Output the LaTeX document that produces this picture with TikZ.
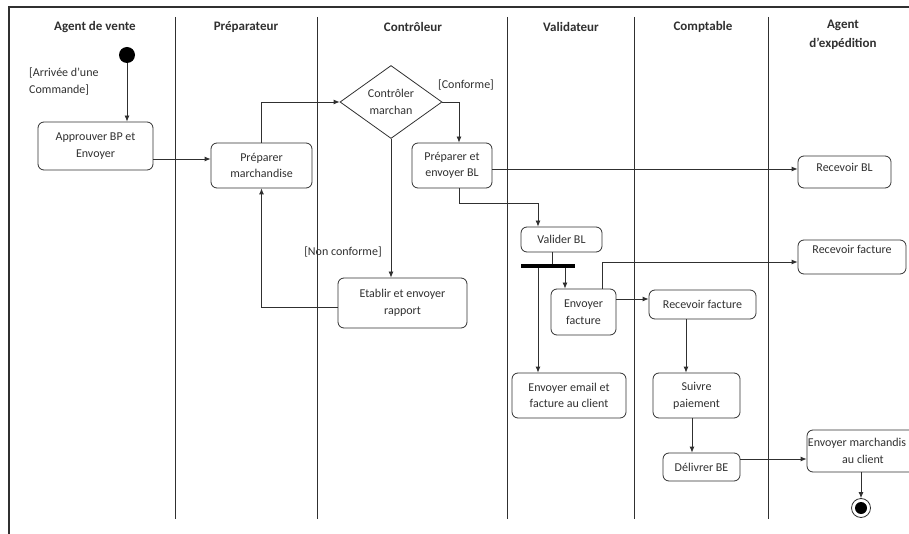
\documentclass[tikz,border=0pt]{standalone}
\usepackage{fontspec}
\setmainfont{Carlito}
\usetikzlibrary{shapes.geometric,arrows.meta}
\definecolor{ink}{HTML}{303030}
\begin{document}
\begin{tikzpicture}[x=1pt,y=-1pt,
  every node/.style={text=ink},
  act/.style={draw=ink, rounded corners=6pt, align=center, inner sep=2pt, line width=0.8pt, font=\fontsize{12}{16.7}\selectfont},
  dec/.style={diamond, draw=ink, align=center, inner sep=0pt, aspect=1.4, line width=0.8pt, font=\fontsize{12}{16.7}\selectfont},
  hdr/.style={font=\fontsize{13}{19}\selectfont\bfseries, align=center},
  lbl/.style={font=\fontsize{12}{16.7}\selectfont, align=left, inner sep=0pt},
  flow/.style={draw=ink, line width=0.8pt, -{Latex[length=6pt,width=5pt]}},
  plainline/.style={draw=ink, line width=0.8pt},
  lane/.style={draw=ink, line width=0.9pt}]
\useasboundingbox (0,0) rectangle (909,534);
% frame and lanes
\draw[ink, line width=1.8pt] (9,534) -- (9,7) -- (909,7);
\foreach \x in {175,317,507,634,768} \draw[lane] (\x,17) -- (\x,519);
% headers
\node[hdr] (h1) at (95,27) {Agent de vente};
\node[hdr] (h2) at (246,27) {Préparateur};
\node[hdr] (h3) at (413,27) {Contrôleur};
\node[hdr] (h4) at (571,27) {Validateur};
\node[hdr] (h5) at (703,27) {Comptable};
\node[hdr] (h6) at (843,35) {Agent\\d’expédition};
% activity nodes
\node[circle, fill=black, minimum size=16pt, inner sep=0pt] (start) at (127,55) {};
\node[act, minimum width=115pt, minimum height=48pt] (appr) at (95.5,146) {Approuver BP et\\Envoyer};
\node[act, minimum width=101pt, minimum height=45pt] (prep) at (261.5,165.5) {Préparer\\marchandise};
\node[dec, minimum width=102pt, minimum height=73pt] (ctrl) at (391,102) {Contrôler\\marchan};
\node[act, minimum width=80pt, minimum height=45pt] (pebl) at (452,165.5) {Préparer et\\envoyer BL};
\node[act, minimum width=93pt, minimum height=32pt, text height=8pt, text depth=8pt] (rbl) at (844.5,172) {Recevoir BL};
\node[act, minimum width=129pt, minimum height=50pt] (etab) at (402.5,303) {Etablir et envoyer\\rapport};
\node[act, minimum width=81pt, minimum height=25pt] (vbl) at (561.5,239.5) {Valider BL};
\node[fill=black, minimum width=54pt, minimum height=3.5pt, inner sep=0pt] (fork) at (548,266) {};
\node[act, minimum width=65pt, minimum height=46pt] (ef) at (583.5,312) {Envoyer\\facture};
\node[act, minimum width=114pt, minimum height=45pt] (em) at (569,395.5) {Envoyer email et\\facture au client};
\node[act, minimum width=108pt, minimum height=34pt, text height=8pt, text depth=14pt] (rfe) at (852,257) {Recevoir facture};
\node[act, minimum width=107pt, minimum height=29pt] (rfc) at (702.5,304.5) {Recevoir facture};
\node[act, minimum width=87pt, minimum height=45pt] (sp) at (696.5,395.5) {Suivre\\paiement};
\node[act, minimum width=77pt, minimum height=28pt] (dbe) at (701.5,467) {Délivrer BE};
\node[act, minimum width=110pt, minimum height=42pt] (emc) at (862,451) {};
\node[font=\fontsize{12}{16.7}\selectfont, align=center, inner sep=0pt] (emctext) at (857,451) {Envoyer marchandis\\\hspace*{12pt}au client};
\node[circle, draw=ink, line width=0.8pt, minimum size=19pt, inner sep=0pt] (end) at (861,508) {};
\node[circle, fill=black, minimum size=12pt, inner sep=0pt] (endin) at (end.center) {};
% guard labels
\node[lbl, anchor=north west] (arr) at (29,68) {[Arrivée d’une\\Commande]};
\node[lbl] (conf) at (466,85) {[Conforme]};
\node[lbl] (nconf) at (343,252) {[Non conforme]};
% helper coordinates
\coordinate (y159) at (0,159);
\coordinate (y169) at (0,169);
\coordinate (y203) at (0,203);
\coordinate (y262) at (0,262);
\coordinate (y299) at (0,299);
\coordinate (y307) at (0,307);
\coordinate (y459) at (0,459);
\coordinate (x459) at (459,0);
\coordinate (x538) at (538,0);
\coordinate (x552) at (552,0);
\coordinate (x565) at (565,0);
\coordinate (x602) at (602,0);
\coordinate (x686) at (686,0);
\coordinate (x692) at (692,0);
\coordinate (x861) at (861,0);
% connectors
\draw[flow] (start) -- (appr.north -| start);
\draw[flow] (appr.east |- y159) -- (prep.west |- y159);
\draw[flow] (prep.north) |- (ctrl.west);
\draw[flow] (ctrl.east) -| (pebl.north -| x459);
\draw[flow] (ctrl.south) -- (etab.north -| ctrl.south);
\draw[flow] (pebl.east |- y169) -- (rbl.west |- y169);
\draw[flow] (pebl.south -| x459) |- (y203 -| x538) -- (vbl.north -| x538);
\draw[flow] (etab.west |- y307) -| (prep.south);
\draw[plainline] (vbl.south -| x552) -- (fork.north -| x552);
\draw[flow] (fork.south -| x538) -- (em.north -| x538);
\draw[flow] (fork.south -| x565) -- (ef.north -| x565);
\draw[flow] (ef.north -| x602) |- (rfe.west |- y262);
\draw[flow] (ef.east |- y299) -- (rfc.west |- y299);
\draw[flow] (rfc.south -| x686) -- (sp.north -| x686);
\draw[flow] (sp.south -| x692) -- (dbe.north -| x692);
\draw[flow] (dbe.east |- y459) -- (emc.west |- y459);
\draw[flow] (emc.south -| x861) -- (end.north);
\end{tikzpicture}
\end{document}
